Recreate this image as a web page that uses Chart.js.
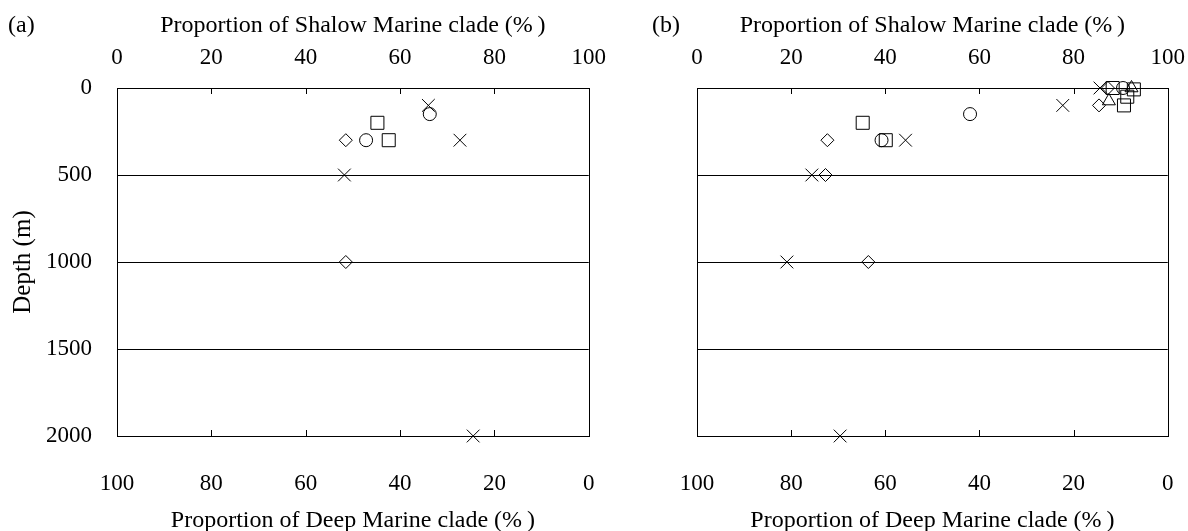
<!DOCTYPE html>
<html>
<head>
<meta charset="utf-8">
<script src="https://cdn.jsdelivr.net/npm/chart.js@4.4.1/dist/chart.umd.min.js"></script>
<style>
  html, body { margin: 0; padding: 0; background: #fff; }
  #wrap { position: relative; width: 1188px; height: 531px; overflow: hidden; }
  canvas { position: absolute; top: 0; }
  #cA { left: 0; }
  #cB { left: 580px; }
</style>
</head>
<body>
<div id="wrap">
  <canvas id="cA" width="622" height="531"></canvas>
  <canvas id="cB" width="621" height="531"></canvas>
</div>
<script>
// Axis tick values
const pctTicks = [0, 20, 40, 60, 80, 100];
const depthTicks = [0, 500, 1000, 1500, 2000];

// Axis titles
const shallowTitle = 'Proportion of Shalow Marine clade (%\u2009)';
const deepTitle = 'Proportion of Deep Marine clade (%\u2009)';
const depthTitle = 'Depth (m)';

// Panel (a): proportion of shallow marine clade (%) and sampling depth (m)
const aCrossPct = [66, 72.7, 48.2, 75.5];
const aCrossDepth = [100, 300, 500, 2000];
const aCirclePct = [66.3, 52.8];
const aCircleDepth = [150, 300];
const aSquarePct = [55.2, 57.6];
const aSquareDepth = [200, 300];
const aDiamondPct = [48.5, 48.5];
const aDiamondDepth = [300, 1000];

// Panel (b)
const bCrossPct = [85.6, 77.7, 44.3, 24.4, 19.1, 30.4];
const bCrossDepth = [0, 100, 300, 500, 1000, 2000];
const bDiamondPct = [87.3, 85.4, 27.7, 27.3, 36.4];
const bDiamondDepth = [0, 100, 300, 500, 1000];
const bCirclePct = [90.5, 58, 39.2];
const bCircleDepth = [0, 150, 300];
const bSquarePct = [88.3, 92.8, 91.4, 90.7, 35.2, 40.1];
const bSquareDepth = [0, 8, 50, 100, 200, 300];
const bTrianglePct = [92.3, 87.5];
const bTriangleDepth = [0, 75];

const SERIF = "'Liberation Serif', 'Times New Roman', serif";

function pairs(xs, ys) {
  return xs.map((x, i) => ({ x: x, y: ys[i] }));
}

function markerSet(xs, ys, style, radius) {
  return {
    data: pairs(xs, ys),
    xAxisID: 'xTop',
    yAxisID: 'y',
    pointStyle: style,
    pointRadius: radius,
    pointHoverRadius: radius,
    borderColor: '#000',
    backgroundColor: 'rgba(0,0,0,0)',
    pointBorderWidth: 1,
    showLine: false,
    clip: false
  };
}

// Frame around the plot area, inward tick marks on the % axes, panel tag
const frameTicks = {
  id: 'frameTicks',
  afterDraw(chart, args, opts) {
    const { ctx, chartArea: a, scales } = chart;
    ctx.save();
    ctx.strokeStyle = '#000';
    ctx.lineWidth = 1;
    ctx.beginPath();
    ['xTop', 'xBottom'].forEach(id => {
      const s = scales[id];
      s.ticks.forEach(t => {
        if (t.value <= 0 || t.value >= 100) return;
        const px = Math.round(s.getPixelForValue(t.value)) + 0.5;
        if (id === 'xTop') { ctx.moveTo(px, a.top); ctx.lineTo(px, a.top + 6); }
        else { ctx.moveTo(px, a.bottom); ctx.lineTo(px, a.bottom - 6); }
      });
    });
    ctx.stroke();
    ctx.strokeRect(Math.round(a.left) + 0.5, Math.round(a.top) + 0.5,
      Math.round(a.right - a.left), Math.round(a.bottom - a.top));
    ctx.fillStyle = '#000';
    ctx.font = '24px ' + SERIF;
    ctx.textAlign = 'left';
    ctx.textBaseline = 'middle';
    ctx.fillText(opts.tag, opts.tagX, 26);
    ctx.restore();
  }
};

function fixedTicks(values) {
  return function (scale) {
    scale.ticks = values.map(v => ({ value: v }));
  };
}

const plainLabel = v => String(v);

function panel(canvasId, tag, tagX, showDepth, padRight, datasets) {
  const tickFont = { family: SERIF, size: 23 };
  const titleFont = { family: SERIF, size: 24, lineHeight: 1 };
  return new Chart(document.getElementById(canvasId), {
    type: 'scatter',
    data: { datasets: datasets },
    options: {
      responsive: false,
      animation: false,
      events: [],
      layout: { padding: { left: 0, right: padRight, top: 0, bottom: 0 } },
      plugins: {
        legend: { display: false },
        tooltip: { enabled: false },
        frameTicks: { tag: tag, tagX: tagX }
      },
      scales: {
        xTop: {
          type: 'linear', position: 'top', min: 0, max: 100,
          afterBuildTicks: fixedTicks(pctTicks),
          ticks: { font: tickFont, color: '#000', padding: 16, maxRotation: 0, autoSkip: false, callback: plainLabel },
          grid: { display: false, drawTicks: false },
          border: { display: false },
          title: { display: true, text: shallowTitle, font: titleFont, color: '#000', padding: { top: 14, bottom: 0 } },
          afterFit(s) { s.height = 88; }
        },
        xBottom: {
          type: 'linear', position: 'bottom', min: 0, max: 100, reverse: true,
          afterBuildTicks: fixedTicks(pctTicks),
          ticks: { font: tickFont, color: '#000', padding: 34, maxRotation: 0, autoSkip: false, callback: plainLabel },
          grid: { display: false, drawTicks: false },
          border: { display: false },
          title: { display: true, text: deepTitle, font: { family: SERIF, size: 24, lineHeight: 0.85 }, color: '#000', padding: { top: 0, bottom: 0 } },
          afterFit(s) { s.height = 95; }
        },
        y: {
          type: 'linear', position: 'left', min: 0, max: 2000, reverse: true,
          afterBuildTicks: fixedTicks(depthTicks),
          ticks: { display: showDepth, font: tickFont, color: '#000', padding: 25, autoSkip: false, callback: plainLabel },
          grid: { color: '#000', lineWidth: 1, drawTicks: false },
          border: { display: false },
          title: { display: showDepth, text: depthTitle, font: { family: SERIF, size: 25, lineHeight: 1 }, color: '#000', padding: { top: 11, bottom: 0 } },
          afterFit(s) { s.width = 117; }
        }
      }
    },
    plugins: [frameTicks]
  });
}

panel('cA', '(a)', 8, true, 21, [
  markerSet(aDiamondPct, aDiamondDepth, 'rectRot', 6.5),
  markerSet(aCirclePct, aCircleDepth, 'circle', 6.5),
  markerSet(aSquarePct, aSquareDepth, 'rect', 9.2),
  markerSet(aCrossPct, aCrossDepth, 'crossRot', 9)
]);

panel('cB', '(b)', 72, false, 20, [
  markerSet(bDiamondPct, bDiamondDepth, 'rectRot', 6.5),
  markerSet(bCirclePct, bCircleDepth, 'circle', 6.5),
  markerSet(bSquarePct, bSquareDepth, 'rect', 9.2),
  markerSet(bTrianglePct, bTriangleDepth, 'triangle', 7.5),
  markerSet(bCrossPct, bCrossDepth, 'crossRot', 9)
]);
</script>
</body>
</html>
